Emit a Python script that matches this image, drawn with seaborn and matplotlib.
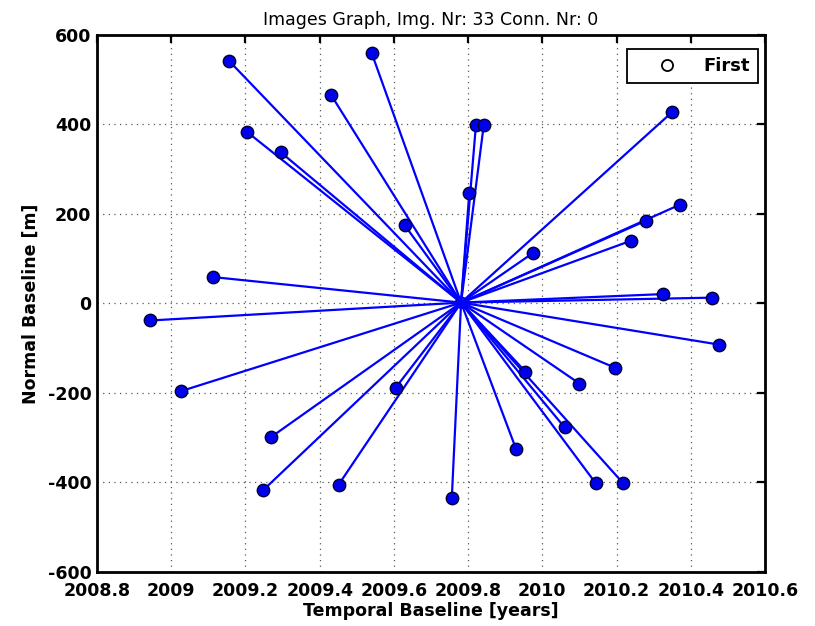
import matplotlib
matplotlib.use("Agg")
import matplotlib.pyplot as plt
from matplotlib.lines import Line2D
import numpy as np
import pandas as pd
import seaborn as sns

# Master acquisition (hub of the star graph)
MASTER_T = 2009.781
MASTER_B = 2.0

# Slave acquisitions: temporal baseline [years] and normal baseline [m]
slave_time = [
    2009.156, 2009.205, 2009.295, 2009.113, 2008.944, 2009.026, 2009.270, 2009.248,
    2009.540, 2009.430, 2009.821, 2009.842, 2009.803, 2009.629, 2009.975, 2009.954,
    2009.605, 2009.929, 2009.451, 2009.756,
    2010.350, 2010.371, 2010.279, 2010.238, 2010.325, 2010.456, 2010.477, 2010.197,
    2010.100, 2010.060, 2010.144, 2010.218,
]
slave_bperp = [
    542, 383, 338, 59, -38, -196, -298, -417,
    560, 467, 398, 398, 246, 175, 113, -152,
    -188, -325, -405, -435,
    428, 221, 185, 140, 21, 13, -92, -144,
    -179, -277, -402, -402,
]

x_ticks = [2008.8, 2009, 2009.2, 2009.4, 2009.6, 2009.8, 2010, 2010.2, 2010.4, 2010.6]
x_ticklabels = ["2008.8", "2009", "2009.2", "2009.4", "2009.6", "2009.8",
                "2010", "2010.2", "2010.4", "2010.6"]
y_ticks = [-600, -400, -200, 0, 200, 400, 600]

sns.set_style("white")
plt.rcParams["font.family"] = ["DejaVu Sans"]
plt.rcParams["axes.unicode_minus"] = False
plt.rcParams["text.color"] = "black"
plt.rcParams["axes.labelcolor"] = "black"

# Connection segments: each slave joined to the master
n = len(slave_time)
seg = pd.DataFrame({
    "conn": np.repeat(np.arange(n), 2),
    "t": np.ravel([[MASTER_T, t] for t in slave_time]),
    "b": np.ravel([[MASTER_B, b] for b in slave_bperp]),
})
pts = pd.DataFrame({"t": slave_time, "b": slave_bperp})

fig = plt.figure(figsize=(8.15, 6.26), dpi=100)
ax = fig.add_axes([0.119, 0.0863, 0.8197, 0.8578])

sns.scatterplot(x=[MASTER_T], y=[MASTER_B], ax=ax, marker="o", s=60,
                facecolor="none", edgecolor="black", linewidth=1.2, zorder=1)
sns.lineplot(data=seg, x="t", y="b", units="conn", estimator=None, sort=False,
             color="#0000ff", linewidth=1.6, ax=ax, zorder=2)
sns.scatterplot(data=pts, x="t", y="b", ax=ax, s=80, color="#0000ee",
                edgecolor="#000033", linewidth=1.0, zorder=3)

ax.set_xlim(2008.8, 2010.6)
ax.set_ylim(-600, 600)
ax.set_xticks(x_ticks)
ax.set_xticklabels(x_ticklabels)
ax.set_yticks(y_ticks)

ax.grid(True, color="0.35", linestyle=(0, (1, 3.5)), linewidth=0.9)
ax.tick_params(direction="in", length=6, width=1.6, top=True, right=True,
               labelsize=12.5, colors="black")
ax.tick_params(axis="x", pad=7)
ax.tick_params(axis="y", pad=4)
for lab in ax.get_xticklabels() + ax.get_yticklabels():
    lab.set_fontweight("bold")
for sp in ax.spines.values():
    sp.set_linewidth(2.0)
    sp.set_color("black")
    sp.set_visible(True)

ax.set_xlabel("Temporal Baseline [years]", fontsize=12.5, fontweight="bold",
              labelpad=2, color="black")
ax.set_ylabel("Normal Baseline [m]", fontsize=12.5, fontweight="bold",
              labelpad=6, color="black")
ax.set_title("Images Graph, Img. Nr: 33 Conn. Nr: 0", fontsize=12.5, pad=7,
             color="black")

handle = Line2D([], [], linestyle="none", marker="o", markersize=8,
                markerfacecolor="none", markeredgecolor="black", markeredgewidth=1.3)
leg = ax.legend([handle], ["First"], loc="upper right",
                bbox_to_anchor=(0.9895, 0.974), borderaxespad=0,
                fancybox=False, framealpha=1, edgecolor="black",
                prop={"weight": "bold", "size": 13},
                handlelength=3.6, handletextpad=0.2, borderpad=0.45,
                markerfirst=True)
leg.get_frame().set_linewidth(1.3)
leg.get_frame().set_boxstyle("square", pad=0)

fig.savefig("out.png", dpi=100)
